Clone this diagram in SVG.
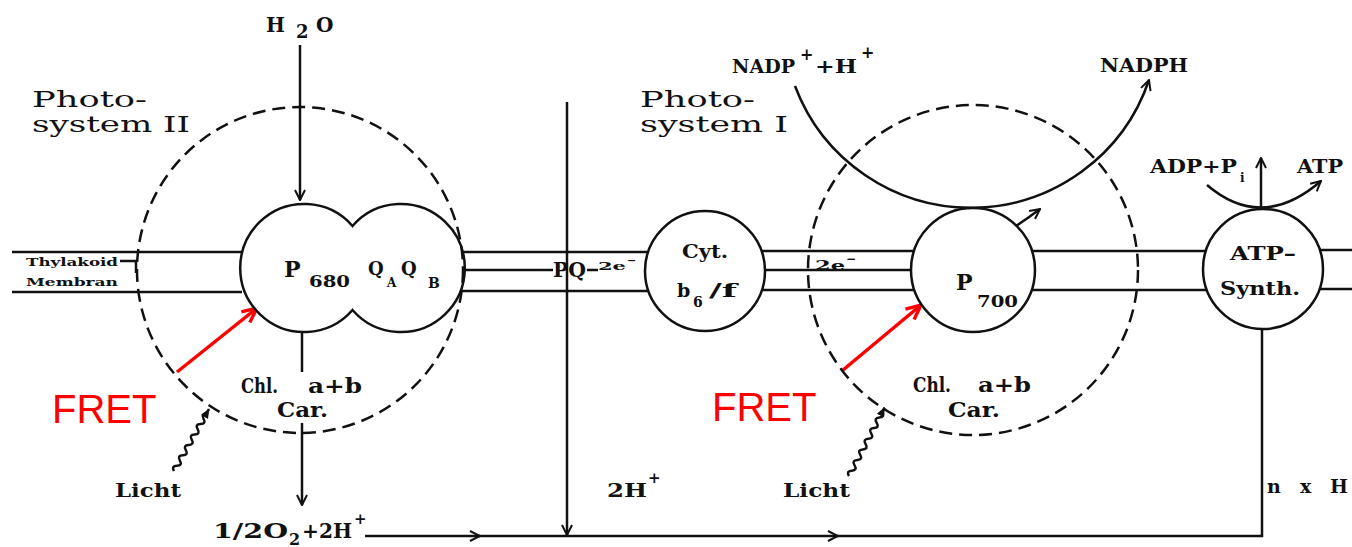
<svg xmlns="http://www.w3.org/2000/svg" width="1352" height="547" viewBox="0 0 1352 547">
<style>
.ln{fill:none;stroke:#111;stroke-width:2.5}
.ds{fill:none;stroke:#111;stroke-width:2.5;stroke-dasharray:13 7}
.nd{fill:#fff;stroke:#111;stroke-width:2.5}
.t{font-family:"DejaVu Serif","Liberation Serif",serif;font-weight:bold;fill:#111}
.h{font-family:"DejaVu Serif","Liberation Serif",serif;fill:#111}
.red{fill:none;stroke:#f00;stroke-width:3.5}
.fret{font-family:"Liberation Sans","Noto Sans",sans-serif;fill:#f00;font-size:40px}
</style>
<defs>
<marker id="ah" viewBox="0 0 12 12" refX="11" refY="6" markerWidth="12" markerHeight="12" markerUnits="userSpaceOnUse" orient="auto">
<path d="M1,1 L11,6 L1,11" fill="none" stroke="#111" stroke-width="2"/>
</marker>
<marker id="ahf" viewBox="0 0 10 10" refX="9" refY="5" markerWidth="10" markerHeight="10" markerUnits="userSpaceOnUse" orient="auto">
<path d="M0,1 L10,5 L0,9 Z" fill="#111"/>
</marker>
<marker id="ahr" viewBox="0 0 16 16" refX="15" refY="8" markerWidth="18" markerHeight="18" markerUnits="userSpaceOnUse" orient="auto">
<path d="M2,2 L15,8 L2,14" fill="none" stroke="#f00" stroke-width="3"/>
</marker>
</defs>
<rect width="1352" height="547" fill="#fff"/>

<g id="connectors">
<path class="ln" d="M12 252 H242 M12 292 H242"/>
<path class="ln" d="M120 261 H136 V273"/>
<path class="ln" d="M462 252 H648 M461 291 H648 M465 270 H553 M587 270 H598"/>
<path class="ln" d="M762 251 H914 M762 290 H914 M765 270 H912"/>
<path class="ln" d="M1032 251 H1206 M1032 290 H1206"/>
<path class="ln" d="M1320 250 H1352 M1320 289 H1352"/>
<path class="ln" d="M300 45 V200" marker-end="url(#ah)"/>
<path class="ln" d="M302 333 V372"/>
<path class="ln" d="M302 423 V505" marker-end="url(#ah)"/>
<path class="ln" d="M365 536 H480" marker-end="url(#ah)"/>
<path class="ln" d="M478 536 H838" marker-end="url(#ah)"/>
<path class="ln" d="M836 536 H1262 V330"/>
<path class="ln" d="M567 102 V535" marker-end="url(#ah)"/>
<path class="ln" d="M912 270 Q970 262 1040 209" marker-end="url(#ah)"/>
<path class="ln" d="M795 86 A188 188 0 0 0 1149 80" marker-end="url(#ah)"/>
<path class="ln" d="M1207 185 Q1262 232 1321 181" marker-end="url(#ah)"/>
<path class="ln" d="M1261 207 V158" marker-end="url(#ah)"/>
<g transform="translate(174 471) rotate(-60.5)">
<path class="ln" stroke-width="2.4" d="M0,0 q3,-5 6,0 t6,0 t6,0 t6,0 t6,0 t6,0 t6,0 t6,0 t6,0 t6,0 t6,0 l5,0" marker-end="url(#ahf)"/>
</g>
<g transform="translate(849 476) rotate(-62.5)">
<path class="ln" stroke-width="2.4" d="M0,0 q3,-5 6,0 t6,0 t6,0 t6,0 t6,0 t6,0 t6,0 t6,0 t6,0 t6,0 t6,0 t6,0 l5,0" marker-end="url(#ahf)"/>
</g>
<path class="red" d="M177 372 L257 308" marker-end="url(#ahr)"/>
<path class="red" d="M843 370 L921 305" marker-end="url(#ahr)"/>
</g>

<g id="ps2">
<path class="nd" d="M352.5,226 A64,64 0 1,0 352.5,310 A64,64 0 1,0 352.5,226 Z"/>
<circle class="ds" cx="300" cy="270" r="163"/>
<text class="t" x="284" y="277" font-size="22">P</text>
<text class="t" x="309" y="287" font-size="16" textLength="41" lengthAdjust="spacingAndGlyphs">680</text>
<text class="t" x="368" y="275" font-size="18">Q</text>
<text class="t" x="387" y="287" font-size="12">A</text>
<text class="t" x="401" y="275" font-size="18">Q</text>
<text class="t" x="428" y="288" font-size="14">B</text>
<text class="t" x="241" y="393" font-size="20" textLength="37" lengthAdjust="spacingAndGlyphs">Chl.</text>
<text class="t" x="308" y="393" font-size="20" textLength="54" lengthAdjust="spacingAndGlyphs">a+b</text>
<text class="t" x="277" y="417" font-size="20" textLength="51" lengthAdjust="spacingAndGlyphs">Car.</text>
</g>

<g id="cyt">
<circle class="nd" cx="705" cy="271" r="60"/>
<text class="t" x="682" y="258" font-size="19" textLength="46" lengthAdjust="spacingAndGlyphs">Cyt.</text>
<text class="t" x="677" y="297" font-size="19">b</text>
<text class="t" x="693" y="307" font-size="14">6</text>
<text class="t" x="709" y="297" font-size="19" textLength="28" lengthAdjust="spacingAndGlyphs">/f</text>
</g>

<g id="ps1">
<circle class="nd" cx="973" cy="270" r="62"/>
<circle class="ds" cx="973" cy="270" r="165"/>
<text class="t" x="956" y="290" font-size="22">P</text>
<text class="t" x="977" y="307" font-size="16" textLength="41" lengthAdjust="spacingAndGlyphs">700</text>
<text class="t" x="913" y="392" font-size="20" textLength="38" lengthAdjust="spacingAndGlyphs">Chl.</text>
<text class="t" x="978" y="392" font-size="20" textLength="53" lengthAdjust="spacingAndGlyphs">a+b</text>
<text class="t" x="948" y="417" font-size="20" textLength="52" lengthAdjust="spacingAndGlyphs">Car.</text>
</g>

<g id="atpsynth">
<circle class="nd" cx="1263" cy="269" r="60"/>
<text class="t" x="1230" y="260" font-size="19" textLength="66" lengthAdjust="spacingAndGlyphs">ATP–</text>
<text class="t" x="1220" y="295" font-size="19" textLength="80" lengthAdjust="spacingAndGlyphs">Synth.</text>
</g>

<g id="labels">
<text class="t" x="266" y="32" font-size="20">H</text>
<text class="t" x="296" y="38" font-size="18">2</text>
<text class="t" x="316" y="32" font-size="20">O</text>
<text class="h" x="32" y="107" font-size="23" textLength="115" lengthAdjust="spacingAndGlyphs">Photo-</text>
<text class="h" x="32" y="132" font-size="23" textLength="158" lengthAdjust="spacingAndGlyphs">system II</text>
<text class="t" x="26" y="266" font-size="11" textLength="92" lengthAdjust="spacingAndGlyphs">Thylakoid</text>
<text class="t" x="26" y="286" font-size="11" textLength="92" lengthAdjust="spacingAndGlyphs">Membran</text>
<text class="t" x="553" y="277" font-size="20" textLength="33" lengthAdjust="spacingAndGlyphs">PQ</text>
<text class="t" x="598" y="270" font-size="11" textLength="28" lengthAdjust="spacingAndGlyphs">2e</text>
<text class="t" x="627" y="264" font-size="11">−</text>
<text class="t" x="815" y="270" font-size="12" textLength="30" lengthAdjust="spacingAndGlyphs">2e</text>
<text class="t" x="846" y="263" font-size="12">−</text>
<text class="h" x="640" y="107" font-size="23" textLength="115" lengthAdjust="spacingAndGlyphs">Photo-</text>
<text class="h" x="640" y="132" font-size="23" textLength="148" lengthAdjust="spacingAndGlyphs">system I</text>
<text class="t" x="732" y="73" font-size="19" textLength="63" lengthAdjust="spacingAndGlyphs">NADP</text>
<text class="t" x="800" y="60" font-size="16">+</text>
<text class="t" x="815" y="73" font-size="19" textLength="42" lengthAdjust="spacingAndGlyphs">+H</text>
<text class="t" x="861" y="58" font-size="16">+</text>
<text class="t" x="1100" y="72" font-size="19" textLength="88" lengthAdjust="spacingAndGlyphs">NADPH</text>
<text class="t" x="1150" y="173" font-size="19" textLength="87" lengthAdjust="spacingAndGlyphs">ADP+P</text>
<text class="t" x="1240" y="182" font-size="12">i</text>
<text class="t" x="1297" y="173" font-size="19" textLength="46" lengthAdjust="spacingAndGlyphs">ATP</text>
<text class="t" x="213" y="538" font-size="20" textLength="75" lengthAdjust="spacingAndGlyphs">1/2O</text>
<text class="t" x="289" y="545" font-size="16">2</text>
<text class="t" x="302" y="538" font-size="20" textLength="50" lengthAdjust="spacingAndGlyphs">+2H</text>
<text class="t" x="354" y="524" font-size="15">+</text>
<text class="t" x="115" y="497" font-size="19" textLength="66" lengthAdjust="spacingAndGlyphs">Licht</text>
<text class="t" x="783" y="497" font-size="19" textLength="67" lengthAdjust="spacingAndGlyphs">Licht</text>
<text class="t" x="607" y="497" font-size="19" textLength="40" lengthAdjust="spacingAndGlyphs">2H</text>
<text class="t" x="648" y="483" font-size="15">+</text>
<text class="t" x="1267" y="493" font-size="19">n</text>
<text class="t" x="1300" y="493" font-size="19">x</text>
<text class="t" x="1330" y="493" font-size="19">H</text>
<text class="fret" x="52" y="423">FRET</text>
<text class="fret" x="712" y="421">FRET</text>
</g>
</svg>
